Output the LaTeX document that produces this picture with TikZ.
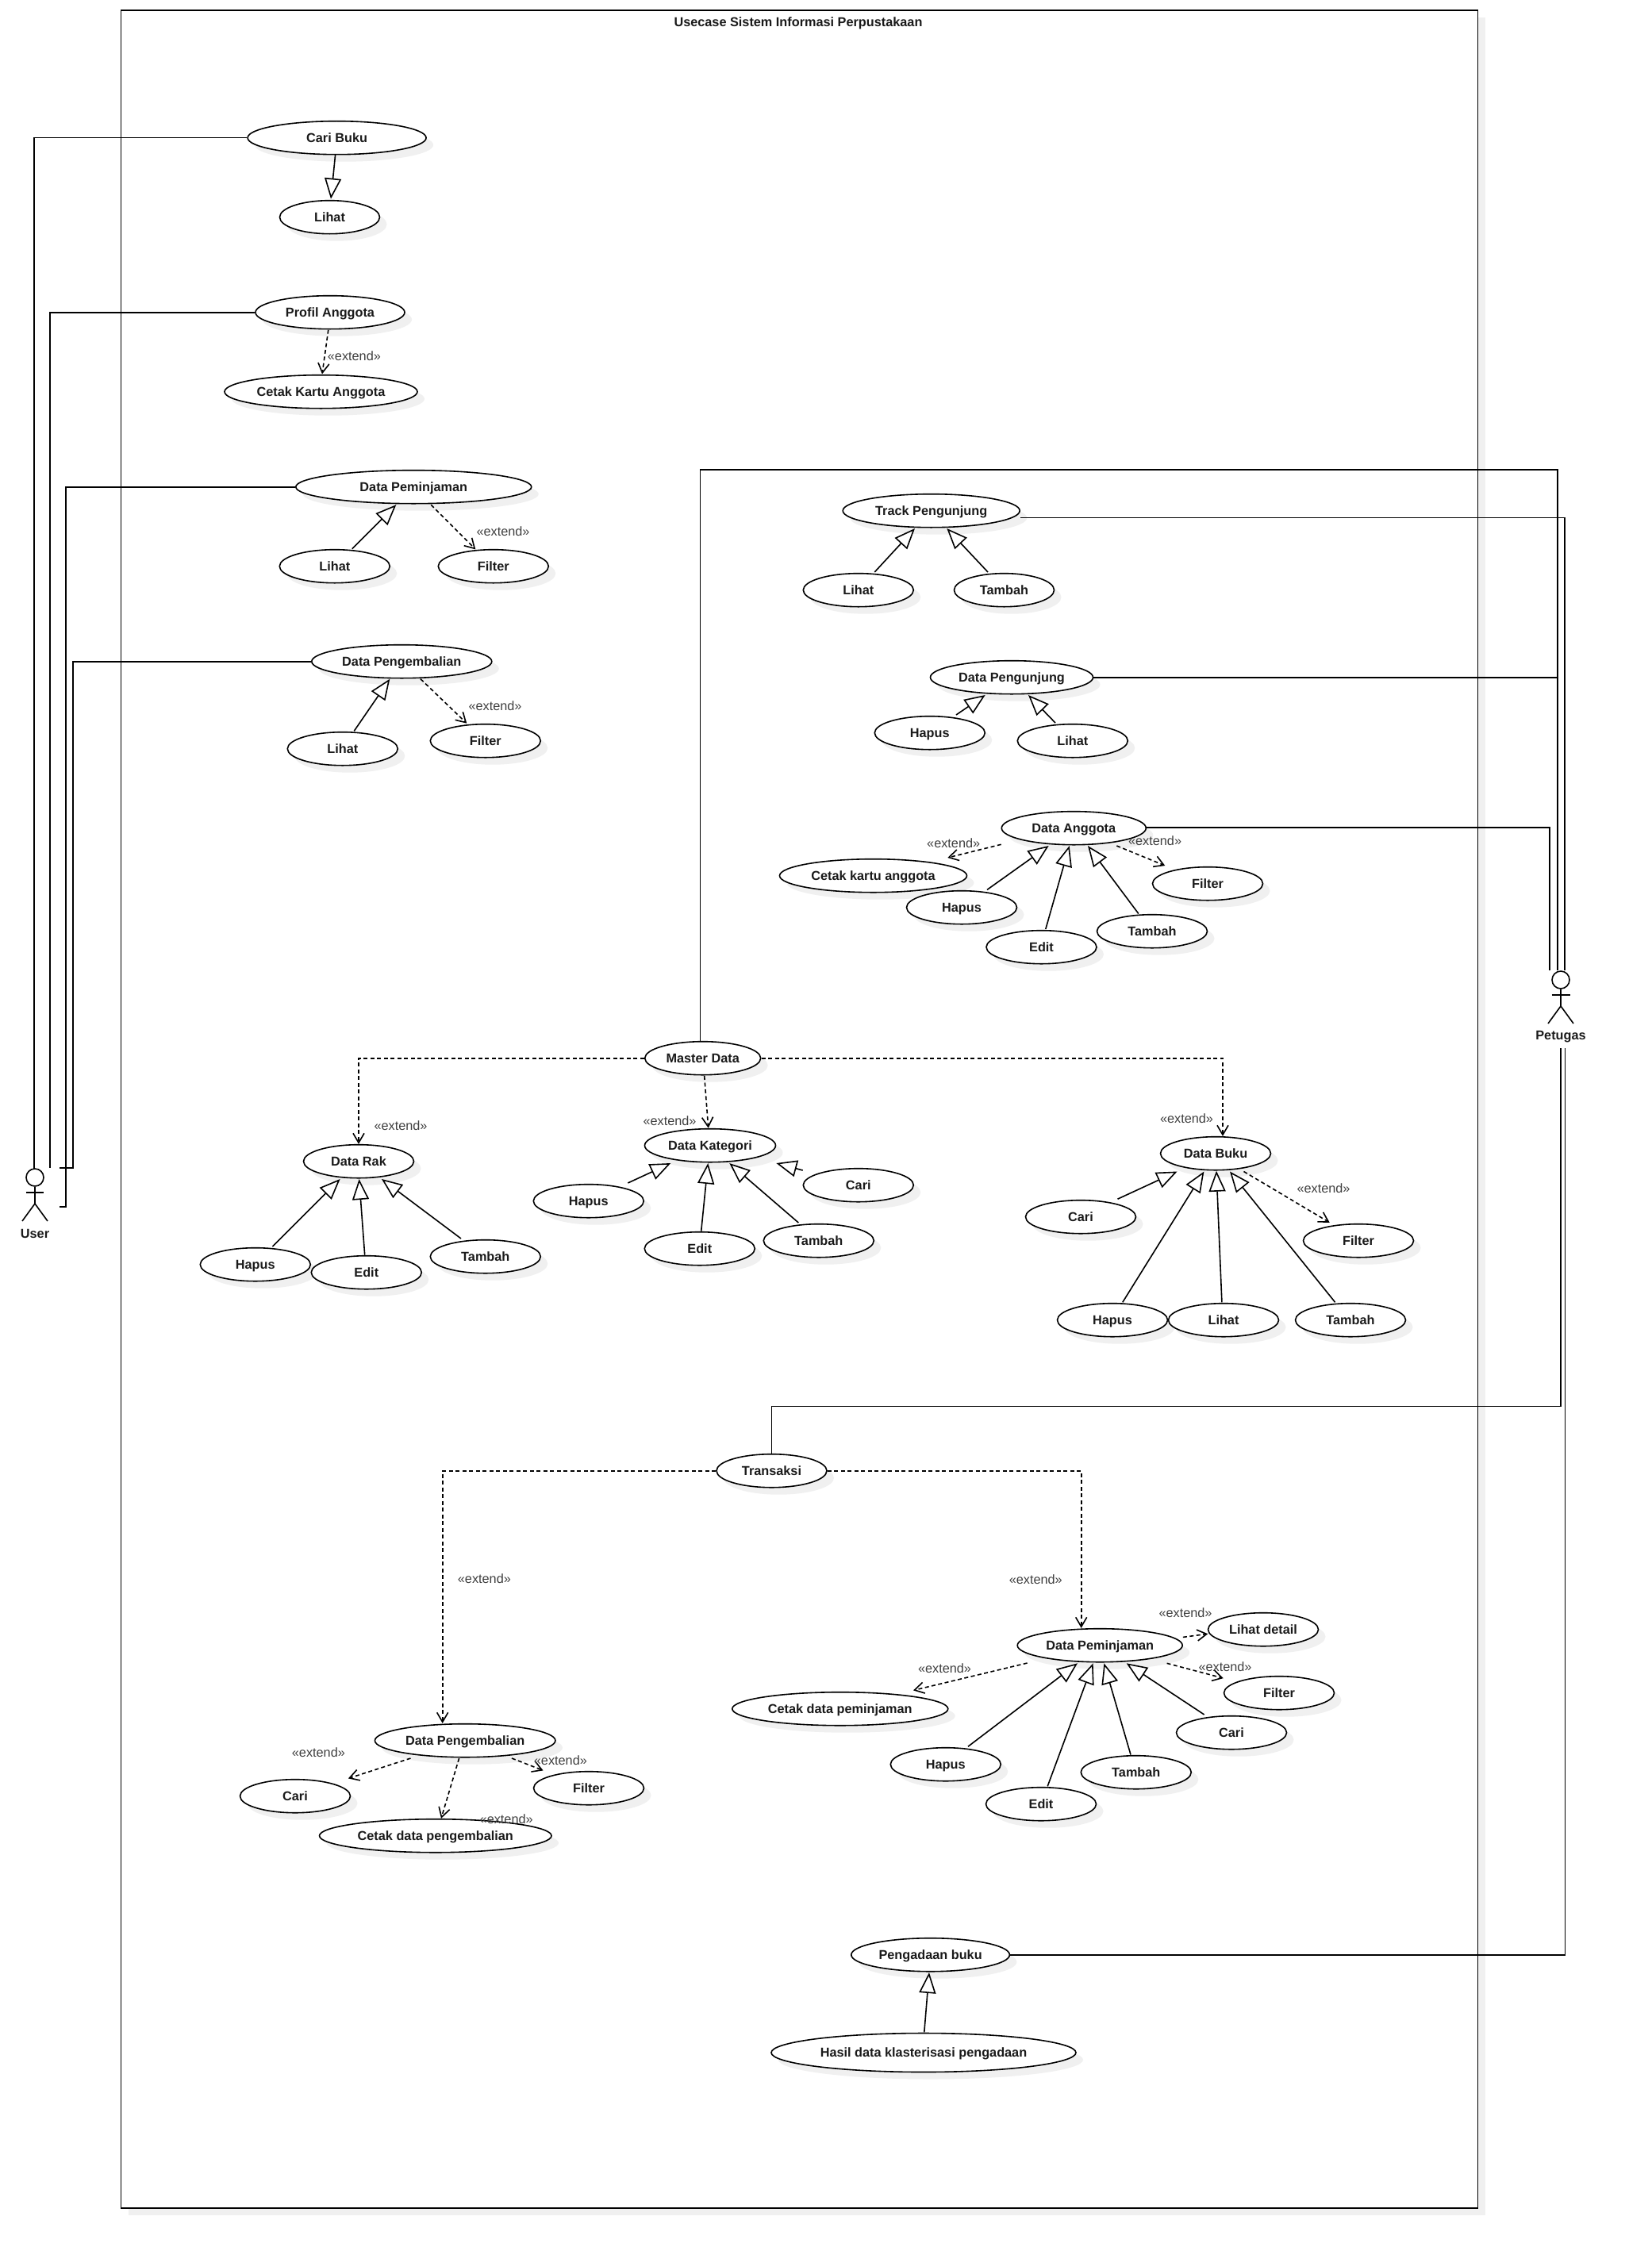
\documentclass[tikz,border=0pt]{standalone}
\usepackage{fontspec}
\setmainfont{Liberation Sans}
\usetikzlibrary{arrows.meta,shapes.geometric,shadows}

\definecolor{inktext}{HTML}{1A1A1A}
\definecolor{extgray}{HTML}{404040}

\tikzset{
    softshadow/.style={drop shadow={shadow xshift=.09cm,shadow yshift=-.09cm,fill=black!6,opacity=1}},
    usecase/.style={ellipse,draw,fill=white,inner sep=0pt,minimum width=1.39cm,minimum height=.42cm,
        font=\fontsize{4.63}{5.5}\selectfont\bfseries,text=inktext,text height=3.3pt,text depth=0pt,softshadow},
    actorhead/.style={circle,draw,fill=white,inner sep=0pt,minimum size=.22cm},
    actorname/.style={font=\fontsize{4.63}{5.5}\selectfont\bfseries,text=inktext,inner sep=0pt,text height=3.3pt,text depth=0pt},
    extlabel/.style={font=\fontsize{4.63}{5.5}\selectfont,text=extgray,inner sep=0pt},
    genline/.style={-{Triangle[open,fill=white,length=.26cm,width=.21cm]}},
    extline/.style={dash pattern=on .05cm off .035cm,-{Straight Barb[length=.12cm,width=.14cm]}},
}

% one straight connector, each end given as an offset from a node's centre
\newcommand{\conn}[5]{\draw[#1] ([shift={(#3)}]#2.center) -- ([shift={(#5)}]#4.center);}

% stick figure under a named head
\newcommand{\stickman}[1]{
    \draw (#1.south) -- ++(0,.22);
    \draw ([shift={(-.115,.19)}]#1.center) -- ++(.23,0);
    \draw ([shift={(-.16,.55)}]#1.center) -- ([shift={(0,.33)}]#1.center) -- ([shift={(.16,.55)}]#1.center);
}

\begin{document}
\begin{tikzpicture}[x=1cm,y=-1cm,line width=.016cm]
\useasboundingbox (0,0) rectangle (20.81,28.32);

% system boundary
\node (boundary) [rectangle,draw,fill=white,softshadow,inner sep=0pt,minimum width=17.1cm,minimum height=27.705cm] at (10.076,13.98) {};
\node (boundaryTitle) [actorname] at (10.06,.28) {Usecase Sistem Informasi Perpustakaan};

% actors
\node (userHead) [actorhead] at (.44,14.84) {};
\stickman{userHead}
\node (userName) [actorname] at (.44,15.55) {User};
\node (petugasHead) [actorhead] at (19.67,12.35) {};
\stickman{petugasHead}
\node (petugasName) [actorname] at (19.67,13.05) {Petugas};

\coordinate (userA) at (.43,14.727);
\coordinate (userB) at (.63,14.723);
\coordinate (userC) at (.83,15.21);
\coordinate (userCend) at (.75,15.21);
\coordinate (userD) at (.92,14.72);
\coordinate (userDend) at (.75,14.72);
\coordinate (petugasA) at (19.53,12.23);
\coordinate (petugasB) at (19.63,12.23);
\coordinate (petugasBtop) at (19.63,5.92);
\coordinate (petugasC) at (19.72,12.23);
\coordinate (petugasD) at (19.667,13.21);
\coordinate (petugasDmid) at (19.667,17.723);
\coordinate (petugasE) at (19.723,13.21);

% user side
\node (cariBuku) [usecase,minimum width=2.25cm] at (4.246,1.737) {Cari Buku};
\node (lihatBuku) [usecase,minimum width=1.26cm] at (4.155,2.737) {Lihat};
\node (profil) [usecase,minimum width=1.88cm] at (4.16,3.937) {Profil Anggota};
\node (cetakKartu) [usecase,minimum width=2.43cm] at (4.045,4.937) {Cetak Kartu Anggota};
\node (pinjamU) [usecase,minimum width=2.97cm] at (5.213,6.137) {Data Peminjaman};
\node (lihatPinjam) [usecase] at (4.218,7.137) {Lihat};
\node (filterPinjam) [usecase] at (6.218,7.137) {Filter};
\node (kembaliU) [usecase,minimum width=2.27cm] at (5.063,8.337) {Data Pengembalian};
\node (lihatKembali) [usecase] at (4.318,9.437) {Lihat};
\node (filterKembali) [usecase] at (6.118,9.337) {Filter};

% petugas side, upper block
\node (track) [usecase,minimum width=2.23cm] at (11.737,6.437) {Track Pengunjung};
\node (lihatTrack) [usecase] at (10.818,7.437) {Lihat};
\node (tambahTrack) [usecase,minimum width=1.26cm] at (12.655,7.437) {Tambah};
\node (pengunjung) [usecase,minimum width=2.05cm] at (12.75,8.537) {Data Pengunjung};
\node (hapusP) [usecase] at (11.718,9.237) {Hapus};
\node (lihatP) [usecase] at (13.518,9.337) {Lihat};
\node (anggota) [usecase,minimum width=1.82cm] at (13.533,10.437) {Data Anggota};
\node (cetakA) [usecase,minimum width=2.36cm] at (11.005,11.037) {Cetak kartu anggota};
\node (filterA) [usecase] at (15.22,11.137) {Filter};
\node (hapusA) [usecase] at (12.12,11.437) {Hapus};
\node (tambahA) [usecase] at (14.52,11.737) {Tambah};
\node (editA) [usecase] at (13.125,11.937) {Edit};

% master data
\node (master) [usecase,minimum width=1.46cm] at (8.857,13.337) {Master Data};
\node (rak) [usecase] at (4.52,14.637) {Data Rak};
\node (hapusR) [usecase] at (3.218,15.937) {Hapus};
\node (editR) [usecase] at (4.618,16.037) {Edit};
\node (tambahR) [usecase] at (6.118,15.837) {Tambah};
\node (kategori) [usecase,minimum width=1.65cm] at (8.95,14.437) {Data Kategori};
\node (hapusK) [usecase] at (7.418,15.137) {Hapus};
\node (editK) [usecase] at (8.818,15.737) {Edit};
\node (tambahK) [usecase] at (10.318,15.637) {Tambah};
\node (cariK) [usecase] at (10.818,14.937) {Cari};
\node (buku) [usecase] at (15.32,14.537) {Data Buku};
\node (cariB) [usecase] at (13.62,15.337) {Cari};
\node (filterB) [usecase] at (17.12,15.637) {Filter};
\node (hapusB) [usecase] at (14.02,16.637) {Hapus};
\node (lihatB) [usecase] at (15.42,16.637) {Lihat};
\node (tambahB) [usecase] at (17.02,16.637) {Tambah};

% transaksi
\node (transaksi) [usecase] at (9.725,18.537) {Transaksi};
\node (kembali) [usecase,minimum width=2.275cm] at (5.862,21.937) {Data Pengembalian};
\node (cariKb) [usecase] at (3.72,22.637) {Cari};
\node (filterKb) [usecase] at (7.42,22.537) {Filter};
\node (cetakKb) [usecase,minimum width=2.925cm] at (5.488,23.137) {Cetak data pengembalian};
\node (pinjam) [usecase,minimum width=2.08cm] at (13.862,20.737) {Data Peminjaman};
\node (lihatD) [usecase] at (15.92,20.537) {Lihat detail};
\node (filterPj) [usecase] at (16.12,21.337) {Filter};
\node (cariPj) [usecase] at (15.52,21.837) {Cari};
\node (tambahPj) [usecase] at (14.318,22.337) {Tambah};
\node (editPj) [usecase] at (13.12,22.737) {Edit};
\node (hapusPj) [usecase] at (11.918,22.237) {Hapus};
\node (cetakPj) [usecase,minimum width=2.72cm] at (10.588,21.537) {Cetak data peminjaman};

% pengadaan
\node (pengadaan) [usecase,minimum width=1.996cm] at (11.726,24.637) {Pengadaan buku};
\node (hasil) [usecase,minimum width=3.84cm,minimum height=.49cm] at (11.64,25.87) {Hasil data klasterisasi pengadaan};

% lines to the actors
\draw (cariBuku.west) -| (userA);
\draw (profil.west) -| (userB);
\draw (pinjamU.west) -| (userC) -- (userCend);
\draw (kembaliU.west) -| (userD) -- (userDend);
\draw ([xshift=-.034cm]master.north) |- (petugasBtop) -- (petugasB);
\draw ([yshift=-.087cm]track.east) -| (petugasC);
\draw (pengunjung.east) -| (petugasB);
\draw ([yshift=.01cm]anggota.east) -| (petugasA);
\draw (transaksi.north) |- (petugasDmid) -- (petugasD);
\draw (pengadaan.east) -| (petugasE);

% generalisations
\conn{genline}{cariBuku}{-.02,.215}{lihatBuku}{.015,-.23}
\conn{genline}{lihatPinjam}{.219,-.22}{pinjamU}{-.22,.225}
\conn{genline}{lihatKembali}{.145,-.224}{kembaliU}{-.15,.22}
\conn{genline}{lihatTrack}{.205,-.227}{track}{-.207,.223}
\conn{genline}{tambahTrack}{-.205,-.227}{track}{.196,.223}
\conn{genline}{hapusP}{.332,-.227}{pengunjung}{-.333,.223}
\conn{genline}{lihatP}{-.218,-.227}{pengunjung}{.21,.223}
\conn{genline}{hapusA}{.32,-.223}{anggota}{-.316,.223}
\conn{genline}{editA}{.053,-.227}{anggota}{-.056,.223}
\conn{genline}{tambahA}{-.172,-.222}{anggota}{.177,.223}
\conn{genline}{hapusR}{.216,-.227}{rak}{-.234,.223}
\conn{genline}{editR}{-.021,-.22}{rak}{.006,.223}
\conn{genline}{tambahR}{-.308,-.227}{rak}{.29,.223}
\conn{genline}{hapusK}{.495,-.227}{kategori}{-.497,.223}
\conn{genline}{editK}{.019,-.22}{kategori}{-.027,.223}
\conn{genline}{tambahK}{-.255,-.227}{kategori}{.243,.223}
\conn{genline}{cariK}{-.701,-.187}{kategori}{.833,.223}
\conn{genline}{cariB}{.465,-.225}{buku}{-.484,.228}
\conn{genline}{hapusB}{.128,-.224}{buku}{-.146,.228}
\conn{genline}{lihatB}{-.021,-.224}{buku}{.01,.22}
\conn{genline}{tambahB}{-.194,-.224}{buku}{.18,.228}
\conn{genline}{hapusPj}{.282,-.225}{pinjam}{-.282,.226}
\conn{genline}{editPj}{.082,-.224}{pinjam}{-.086,.226}
\conn{genline}{tambahPj}{-.068,-.222}{pinjam}{.052,.226}
\conn{genline}{cariPj}{-.343,-.227}{pinjam}{.335,.226}
\conn{genline}{hasil}{.008,-.257}{pengadaan}{-.016,.223}

% extends
\conn{extline}{profil}{-.022,.22}{cetakKartu}{.015,-.223}
\conn{extline}{pinjamU}{.22,.225}{filterPinjam}{-.225,-.213}
\conn{extline}{kembaliU}{.237,.22}{filterKembali}{-.235,-.22}
\conn{extline}{anggota}{-.916,.206}{cetakA}{.938,-.227}
\conn{extline}{anggota}{.54,.223}{filterA}{-.537,-.227}
\draw[extline] (master.west) -| (rak.north);
\draw[extline] (master.east) -| ([xshift=.09cm]buku.north);
\conn{extline}{master}{.02,.223}{kategori}{-.023,-.22}
\conn{extline}{buku}{.355,.228}{filterB}{-.363,-.229}
\draw[extline] (transaksi.west) -| ([xshift=-.285cm]kembali.north);
\draw[extline] (transaksi.east) -| ([xshift=-.235cm]pinjam.north);
\conn{extline}{kembali}{-.687,.223}{cariKb}{.669,-.223}
\conn{extline}{kembali}{-.076,.223}{cetakKb}{.072,-.219}
\conn{extline}{kembali}{.588,.223}{filterKb}{-.574,-.223}
\conn{extline}{pinjam}{1.047,-.103}{lihatD}{-.697,.055}
\conn{extline}{pinjam}{.844,.226}{filterPj}{-.702,-.186}
\conn{extline}{pinjam}{-.916,.223}{cetakPj}{.922,-.233}

% extend labels
\node (lbProfil) [extlabel] at (4.464,4.487) {«extend»};
\node (lbPinjamU) [extlabel] at (6.34,6.693) {«extend»};
\node (lbKembaliU) [extlabel] at (6.24,8.893) {«extend»};
\node (lbCetakA) [extlabel] at (12.017,10.627) {«extend»};
\node (lbFilterA) [extlabel] at (14.556,10.593) {«extend»};
\node (lbRak) [extlabel] at (5.05,14.19) {«extend»};
\node (lbKategori) [extlabel] at (8.44,14.127) {«extend»};
\node (lbBuku) [extlabel] at (14.955,14.097) {«extend»};
\node (lbFilterB) [extlabel] at (16.68,14.975) {«extend»};
\node (lbKembali) [extlabel] at (6.104,19.893) {«extend»};
\node (lbPinjam) [extlabel] at (13.053,19.907) {«extend»};
\node (lbLihatD) [extlabel] at (14.94,20.328) {«extend»};
\node (lbFilterPj) [extlabel] at (15.44,21.005) {«extend»};
\node (lbCetakPj) [extlabel] at (11.905,21.025) {«extend»};
\node (lbCariKb) [extlabel] at (4.014,22.086) {«extend»};
\node (lbFilterKb) [extlabel] at (7.064,22.186) {«extend»};
\node (lbCetakKb) [extlabel] at (6.382,22.929) {«extend»};
\end{tikzpicture}
\end{document}
